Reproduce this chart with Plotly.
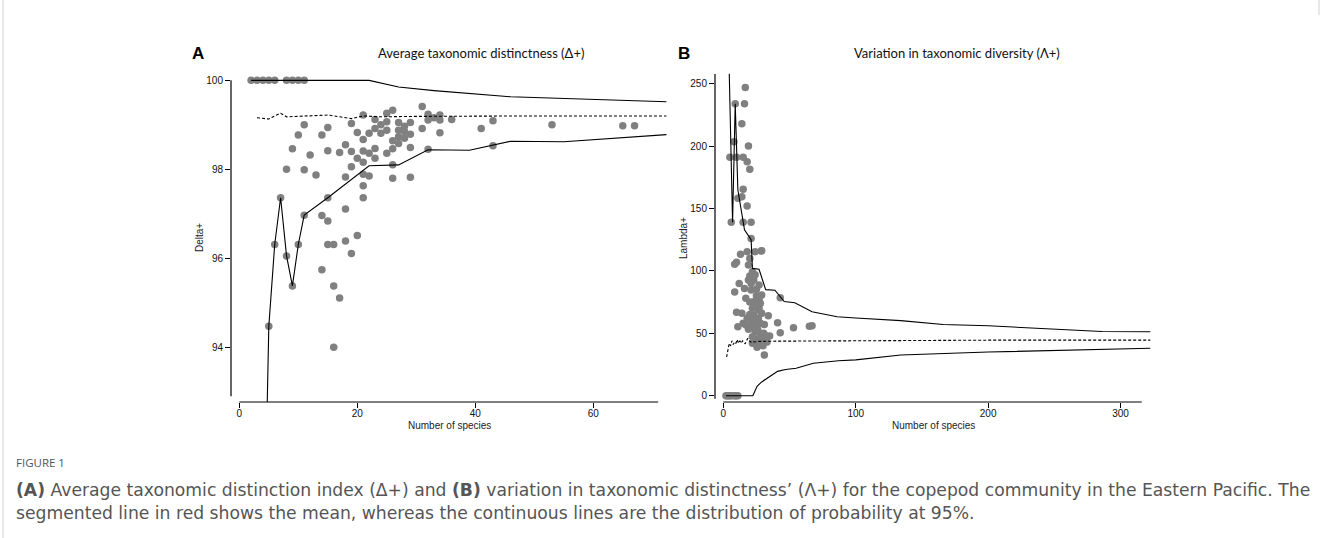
import plotly.graph_objects as go

# ---------------- Panel A data (Delta+) ----------------
a_x = [2, 3, 4, 5, 6, 8, 9, 10, 11,
       5, 6, 7, 8, 9, 10, 11,
       8, 9, 10, 11, 11, 12, 13,
       14, 14, 14,
       15, 15, 15, 15, 15,
       16, 16, 16,
       17, 17,
       18, 18, 18, 18,
       19, 19, 19, 19,
       20, 20, 20,
       21, 21, 21, 21, 21, 21, 21,
       22, 22, 22,
       23, 23, 23, 23,
       24, 24,
       25, 25, 25, 25,
       26, 26, 26, 26, 26,
       27, 27, 27, 27,
       28, 28, 28,
       29, 29, 29, 29,
       31, 31,
       32, 32, 32,
       33,
       34, 34, 34,
       36, 41, 43, 43, 53, 65, 67]
a_y = [100, 100, 100, 100, 100, 100, 100, 100, 100,
       94.47, 96.31, 97.36, 96.05, 95.38, 96.31, 96.97,
       98.0, 98.46, 98.77, 99.0, 97.99, 98.32, 97.87,
       98.77, 96.96, 95.74,
       98.94, 98.42, 97.36, 96.84, 96.31,
       96.31, 95.38, 94.0,
       98.38, 95.11,
       98.55, 97.83, 97.11, 96.39,
       99.03, 98.4, 98.06, 96.11,
       98.83, 98.25, 96.51,
       99.22, 98.67, 98.41, 98.16, 97.89, 97.63, 97.36,
       98.81, 98.36, 97.85,
       99.12, 98.92, 98.47, 98.25,
       99.0, 98.81,
       99.26, 99.07, 98.88, 98.36,
       99.33, 98.64, 98.46, 98.1, 97.8,
       99.05, 98.88, 98.73, 98.58,
       98.97, 98.85, 98.7,
       99.05, 98.79, 98.49, 97.82,
       99.41, 98.92,
       99.24, 99.11, 98.45,
       99.16,
       99.22, 99.11, 98.82,
       99.12, 98.92, 99.09, 98.53, 99.0, 98.98, 98.98]

a_upper_x = [2, 22, 27, 33, 46, 72.4]
a_upper_y = [100, 100, 99.85, 99.77, 99.63, 99.52]

a_mean_x = [3, 4, 5, 6, 7, 8, 10, 12, 14, 15, 17, 19, 21, 24, 30, 40, 50, 72.4]
a_mean_y = [99.16, 99.15, 99.13, 99.2, 99.26, 99.18, 99.19, 99.2, 99.22, 99.22,
            99.18, 99.14, 99.2, 99.18, 99.19, 99.2, 99.2, 99.2]

a_lower_x = [4, 5, 6, 7, 8, 9, 10, 11, 15, 19, 22, 27, 32, 39, 46, 55, 72.4]
a_lower_y = [88.0, 94.47, 96.31, 97.36, 96.06, 95.38, 96.31, 96.97, 97.36, 97.76,
             98.08, 98.1, 98.44, 98.43, 98.63, 98.62, 98.78]

a_xticks = [0, 20, 40, 60]
a_yticks = [94, 96, 98, 100]

# ---------------- Panel B data (Lambda+) ----------------
b_x = [2, 3, 4, 5, 6, 8, 9, 10, 11,
       16.6, 9, 16, 14, 19, 8, 5, 10, 15, 18, 20, 15, 14, 11, 18, 6, 15, 21, 21,
       24, 29, 18, 13, 10, 8.6, 19, 22, 19, 12, 23, 27, 16, 21, 25, 8.6, 29, 17,
       43, 23, 28, 22, 26.5, 10, 14, 23, 26.5, 34, 18, 22, 11, 17, 24, 41, 53, 43,
       24, 30.5, 35, 22, 25.5, 25.5, 31, 65, 67, 15, 19,
       20, 24, 21, 25, 27, 20, 24, 27, 29, 20, 25, 28, 31, 21, 26, 28, 32, 27,
       23, 29, 33, 26, 22, 30, 20, 28.5]
b_y = [0, 0, 0, 0, 0, 0, 0, 0, 0,
       247, 234, 234, 218, 200, 203.5, 191, 191, 191, 187.5, 181.4, 165.4, 159.5,
       158.2, 152, 139, 139, 139, 126,
       115.4, 116.2, 115.4, 113.3, 107, 105.3, 104.7, 99.4, 92.7, 90, 92.7, 88.7,
       86, 84.7, 85.3, 83, 80.7, 78,
       78.5, 75.3, 74, 70, 68.7, 66.8, 66, 64.7, 62, 64, 62, 60.7, 55.3, 56.7, 55.3,
       58.5, 54.5, 50.5,
       51.3, 50, 47.8, 47.3, 43.3, 38.8, 32.6, 55.6, 56, 58, 53.2,
       96, 97, 90, 80, 78, 75, 72, 70, 66, 65, 60, 58, 57, 57, 53, 50, 48, 46,
       45, 44, 43, 40, 42, 40, 110, 116]

b_upper_x = [4.5, 7, 9, 11, 16, 21, 22, 27, 32, 39, 46, 54, 67, 86, 100, 134,
             166, 200, 286, 322.5]
b_upper_y = [258, 139, 234, 165, 133, 125, 102, 101.3, 85, 84.5, 75.5, 74.5,
             67.3, 63.3, 62.3, 60.2, 57, 56, 51.5, 51.3]

b_mean_x = [2.5, 3.5, 4.5, 5.5, 6.5, 7.5, 8.5, 9.5, 10.5, 11.5, 12.5, 13.5, 14.5,
            15.5, 16.5, 17.5, 18.5, 19.5, 20.5, 21.5, 22.5, 27, 40, 100, 200, 322.5]
b_mean_y = [31, 37, 42, 40, 44, 41, 43, 42, 45, 42, 44, 42, 44, 43, 41.5, 44, 46,
            44, 43, 42.5, 43, 43.5, 43.7, 44.2, 44.5, 44.5]

b_lower_x = [2, 22.3, 25.5, 29, 41, 47, 55, 68, 87, 100, 134, 200, 322.5]
b_lower_y = [0, 0, 7.5, 11, 19.5, 21, 22, 26, 28, 28.7, 32.6, 35, 38]

b_xticks = [0, 100, 200, 300]
b_yticks = [0, 50, 100, 150, 200, 250]

# ---------------- Figure ----------------
W, H = 1322, 538


def px(v):
    return v / W


def py(v):
    return 1 - v / H


DOT = '#808080'
fig = go.Figure()

fig.add_trace(go.Scatter(x=a_x, y=a_y, mode='markers', xaxis='x', yaxis='y',
                         marker=dict(color=DOT, size=7.5, line=dict(width=0)),
                         cliponaxis=False, hoverinfo='skip'))
for xs, ys, dash in [(a_upper_x, a_upper_y, 'solid'),
                     (a_mean_x, a_mean_y, '3px,2px'),
                     (a_lower_x, a_lower_y, 'solid')]:
    fig.add_trace(go.Scatter(x=xs, y=ys, mode='lines', xaxis='x', yaxis='y',
                             line=dict(color='black', width=1.1, dash=dash),
                             hoverinfo='skip'))

fig.add_trace(go.Scatter(x=b_x, y=b_y, mode='markers', xaxis='x2', yaxis='y2',
                         marker=dict(color=DOT, size=7.5, line=dict(width=0)),
                         cliponaxis=False, hoverinfo='skip'))
for xs, ys, dash in [(b_upper_x, b_upper_y, 'solid'),
                     (b_mean_x, b_mean_y, '3px,2px'),
                     (b_lower_x, b_lower_y, 'solid')]:
    fig.add_trace(go.Scatter(x=xs, y=ys, mode='lines', xaxis='x2', yaxis='y2',
                             line=dict(color='black', width=1.1, dash=dash),
                             hoverinfo='skip'))

tickfont = dict(family='Liberation Sans, Arial, sans-serif', size=10, color='#111')
axcommon = dict(showgrid=False, zeroline=False, showline=False, ticks='outside',
                ticklen=5, tickwidth=1, tickcolor='black', tickfont=tickfont)

fig.update_layout(
    width=W, height=H, margin=dict(l=0, r=0, t=0, b=0),
    paper_bgcolor='white', plot_bgcolor='white', showlegend=False,
    xaxis=dict(domain=[px(231), px(667)], range=[-1.41, 72.5], anchor='y',
               tickvals=a_xticks, ticklabelstandoff=-3, **axcommon),
    yaxis=dict(domain=[py(402), py(71)], range=[92.77, 100.21], anchor='x',
               tickvals=a_yticks, **axcommon),
    xaxis2=dict(domain=[px(715), px(1151)], range=[-6.27, 323.0], anchor='y2',
                tickvals=b_xticks, ticklabelstandoff=-3, **axcommon),
    yaxis2=dict(domain=[py(402), py(71)], range=[-5.05, 260.2], anchor='x2',
                tickvals=b_yticks, **axcommon),
)

line_style = dict(color='black', width=1.2)
shapes = [
    dict(type='line', xref='x domain', x0=0, x1=0, yref='y', y0=92.9, y1=100, line=line_style),
    dict(type='line', xref='x', x0=0, x1=71, yref='y domain', y0=0, y1=0, line=line_style),
    dict(type='line', xref='x2 domain', x0=0, x1=0, yref='y2', y0=-2.4, y1=257.7, line=line_style),
    dict(type='line', xref='x2', x0=0, x1=316, yref='y2 domain', y0=0, y1=0, line=line_style),
    # page borders
    dict(type='line', xref='paper', yref='paper', x0=px(3), x1=px(3), y0=0, y1=1,
         line=dict(color='#d0d0d0', width=1)),
    dict(type='line', xref='paper', yref='paper', x0=px(1319), x1=px(1319), y0=py(15), y1=1,
         line=dict(color='#d0d0d0', width=1)),
]
fig.update_layout(shapes=shapes)

title_font = dict(family='Lato, Open Sans, sans-serif', size=13, color='#111')
lab_font = dict(family='Liberation Sans, Arial, sans-serif', size=10, color='#222')
cap_font = dict(family='DejaVu Sans, sans-serif', size=17.2, color='#555')

ann = [
    dict(text='<b>A</b>', x=px(198), y=py(53), font=dict(family='Liberation Sans, Arial', size=17, color='black')),
    dict(text='<b>B</b>', x=px(684), y=py(53), font=dict(family='Liberation Sans, Arial', size=17, color='black')),
    dict(text='Average taxonomic distinctness (Δ+)', x=px(480.5), y=py(53), font=title_font),
    dict(text='Variation in taxonomic diversity (Λ+)', x=px(957), y=py(53), font=title_font),
    dict(text='Number of species', x=px(449), y=py(425), font=lab_font),
    dict(text='Number of species', x=px(933), y=py(425), font=lab_font),
    dict(text='Delta+', x=px(199), y=py(238), textangle=-90, font=lab_font),
    dict(text='Lambda+', x=px(683), y=py(238), textangle=-90, font=lab_font),
    dict(text='FIGURE 1', x=px(14), y=py(462), xanchor='left',
         font=dict(family='Open Sans, sans-serif', size=11.5, color='#555')),
    dict(text='<b>(A)</b> Average taxonomic distinction index (Δ+) and <b>(B)</b> variation in taxonomic '
              'distinctness’ (Λ+) for the copepod community in the Eastern Pacific. The',
         x=px(14), y=py(490), xanchor='left', font=cap_font),
    dict(text='segmented line in red shows the mean, whereas the continuous lines are the distribution '
              'of probability at 95%.',
         x=px(14), y=py(513), xanchor='left', font=cap_font),
]
for a in ann:
    a.setdefault('xanchor', 'center')
    a.update(xref='paper', yref='paper', yanchor='middle', showarrow=False)
fig.update_layout(annotations=ann)

fig.write_html('out.html', config={'displayModeBar': False},
               post_script="document.body.style.margin='0';")
